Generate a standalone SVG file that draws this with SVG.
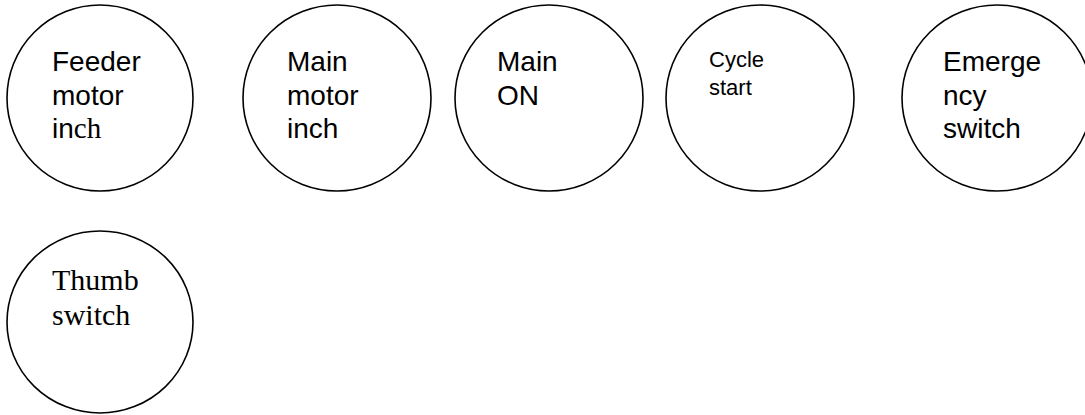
<svg xmlns="http://www.w3.org/2000/svg" width="1085" height="415" viewBox="0 0 1085 415">
<style>
.c{fill:#fff;stroke:#000;stroke-width:1.6}
.s{font-family:"Liberation Sans",Arial,sans-serif;font-size:28px;fill:#000}
.m{font-family:"Liberation Sans",Arial,sans-serif;font-size:22px;fill:#000}
.r{font-family:"Liberation Serif","Times New Roman",serif;font-size:30px;fill:#000}
</style>
<rect width="1085" height="415" fill="#fff"/>
<g id="connectors"/>
<g id="feeder">
<ellipse class="c" cx="100" cy="98" rx="93" ry="93"/>
<text class="s" x="52" y="71">Feeder</text>
<text class="s" x="52" y="104.5">motor</text>
<text class="s" x="52" y="138">in<tspan style="font-family:'Liberation Serif','Times New Roman',serif;font-size:29px">ch</tspan></text>
</g>
<g id="mainmotor">
<ellipse class="c" cx="337" cy="98" rx="94" ry="93"/>
<text class="s" x="287" y="71">Main</text>
<text class="s" x="287" y="104.5">motor</text>
<text class="s" x="287" y="138">inch</text>
</g>
<g id="mainon">
<ellipse class="c" cx="549" cy="98" rx="94" ry="93"/>
<text class="s" x="497" y="71">Main</text>
<text class="s" x="497" y="104.5">ON</text>
</g>
<g id="cycle">
<ellipse class="c" cx="760" cy="98" rx="94" ry="93"/>
<text class="m" x="709" y="67">Cycle</text>
<text class="m" x="709" y="95">start</text>
</g>
<g id="emergency">
<ellipse class="c" cx="997" cy="98" rx="95" ry="93"/>
<text class="s" x="943" y="71">Emerge</text>
<text class="s" x="943" y="104.5">ncy</text>
<text class="s" x="943" y="138">switch</text>
</g>
<g id="thumb">
<ellipse class="c" cx="100" cy="322" rx="93" ry="91"/>
<text class="r" x="52" y="290">Thumb</text>
<text class="r" x="52" y="325">switch</text>
</g>
</svg>
